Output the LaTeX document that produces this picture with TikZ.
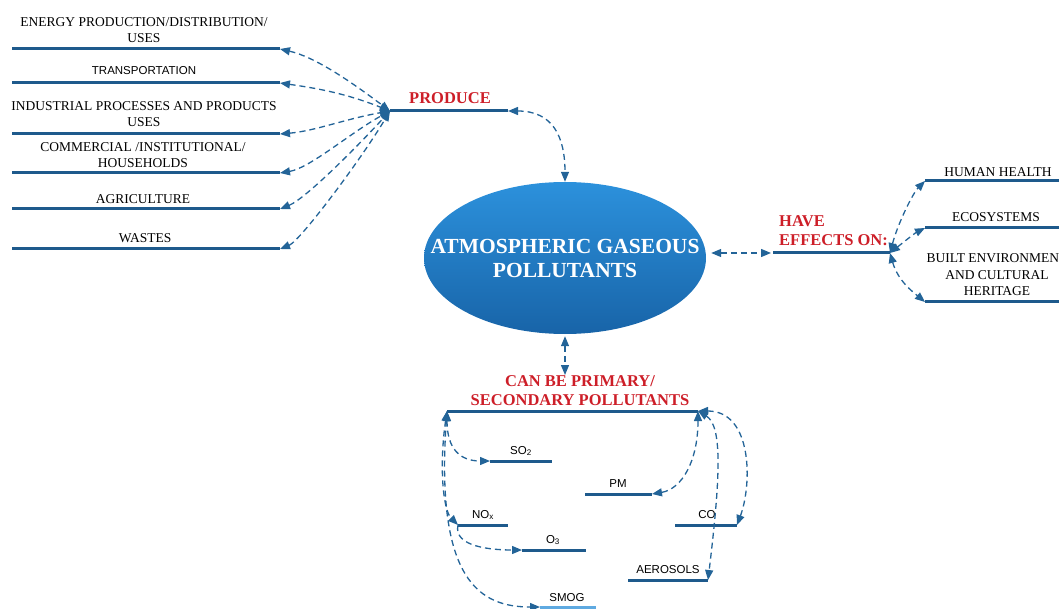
\documentclass[tikz,border=0pt]{standalone}
\usepackage{fontspec}
\setmainfont{Liberation Serif}
\setsansfont{Liberation Sans}
\usepackage{tikz}
\usetikzlibrary{arrows.meta,shapes.geometric}

\definecolor{barblue}{RGB}{30,90,140}
\definecolor{dashblue}{RGB}{35,100,152}
\definecolor{labelred}{RGB}{205,30,40}
\definecolor{elltop}{RGB}{44,145,220}
\definecolor{ellbot}{RGB}{24,100,168}
\definecolor{smogblue}{RGB}{95,170,225}

\tikzset{
	bar/.style={barblue,line width=3pt},
	link/.style={dashblue,line width=1.3pt,dash pattern=on 6pt off 4pt},
	>={Triangle[length=10pt,width=8pt]},
	lbl/.style={font=\fontsize{13.5}{16.5}\selectfont,align=center,inner sep=0pt},
	sublbl/.style={font=\sffamily\fontsize{11.5}{13}\selectfont,inner sep=0pt},
	verb/.style={font=\bfseries\fontsize{16.5}{19}\selectfont,text=labelred,inner sep=0pt}
}

\begin{document}
\begin{tikzpicture}[x=1pt,y=-1pt]
		\useasboundingbox (0,0) rectangle (1059,609);
		
		%centre
		\node[ellipse,minimum width=282pt,minimum height=152pt,top color=elltop,bottom color=ellbot] (gas) at (565,258) {};
		\node[font=\bfseries\fontsize{21.5}{24}\selectfont,text=white,align=center,inner sep=0pt] (gastext) at (gas.center) {ATMOSPHERIC GASEOUS\\POLLUTANTS};
		
		%left branch
		\coordinate (produceL) at (390,111);
		\coordinate (produceR) at (508,111);
		\draw[bar] (produceL) -- (produceR);
		\node[verb] (produce) at (450,98) {PRODUCE};
		\foreach \y/\nm in {49/energy,83/transport,134/industry,173/commerce,209/agri,249/waste}{
			\coordinate (\nm L) at (12,\y);
			\coordinate (\nm R) at (280,\y);
			\draw[bar] (\nm L) -- (\nm R);
		}
		\node[lbl] (energy) at (144,30) {ENERGY PRODUCTION/DISTRIBUTION/\\USES};
		\node[sublbl] (transport) at (144,71) {TRANSPORTATION};
		\node[lbl] (industry) at (144,114) {INDUSTRIAL PROCESSES AND PRODUCTS\\USES};
		\node[lbl] (commerce) at (143,155) {COMMERCIAL /INSTITUTIONAL/\\HOUSEHOLDS};
		\node[lbl] (agri) at (143,199) {AGRICULTURE};
		\node[lbl] (waste) at (145,238) {WASTES};
		
		%dashed fan
		\draw[link,<->] (energyR) .. controls +(35,8) and +(-40,-30) .. (produceL);
		\draw[link,<->] (transportR) .. controls +(35,5) and +(-45,-18) .. (produceL);
		\draw[link,<->] (industryR) .. controls +(35,-3) and +(-45,8) .. (produceL);
		\draw[link,<->] (commerceR) .. controls +(30,-5) and +(-40,22) .. (produceL);
		\draw[link,<->] (agriR) .. controls +(25,-10) and +(-35,38) .. (produceL);
		\draw[link,<->] (wasteR) .. controls +(20,-8) and +(-30,50) .. (produceL);
		\draw[link,<->] (produceR) .. controls +(45,0) and +(0,-45) .. (gas.north);
		
		%effects
		\coordinate (effL) at (773,253);
		\coordinate (effR) at (890,253);
		\draw[bar] (effL) -- (effR);
		\node[verb,align=left,anchor=south west] (effects) at (779,246) {HAVE\\EFFECTS ON:};
		\draw[link,<->,shorten <=5pt,shorten >=2pt] (gas.east |- effL) -- (effL);
		\foreach \y/\nm in {181/human,228/eco,302/built}{
			\coordinate (\nm L) at (925,\y);
			\coordinate (\nm R) at (1059,\y);
			\draw[bar] (\nm L) -- (\nm R);
		}
		\node[lbl] (human) at (998,172) {HUMAN HEALTH};
		\node[lbl] (eco) at (996,217) {ECOSYSTEMS};
		\node[lbl] (built) at (997,275) {BUILT ENVIRONMENT\\AND CULTURAL\\HERITAGE};
		\draw[link,<->] (effR) .. controls +(8,-30) and +(-12,12) .. (humanL);
		\draw[link,<->] (effR) .. controls +(10,-8) and +(-10,5) .. (ecoL);
		\draw[link,<->] (effR) .. controls +(8,28) and +(-12,-10) .. (builtL);
		
		%pollutants
		\coordinate (polTop) at (565,375);
		\draw[link,<->,shorten <=2pt] (gas.south) -- (polTop);
		\node[verb,align=center] (poltext) at (580,391) {CAN BE PRIMARY/\\SECONDARY POLLUTANTS};
		\coordinate (polL) at (447,411);
		\coordinate (polR) at (698,411);
		\draw[bar] (polL) -- (polR);
		\foreach \xa/\xb/\y/\nm in {490/552/461/so2,585/652/494/pm,458/508/525/nox,522/586/550/o3,675/737/525/co,628/708/580/aero}{
			\coordinate (\nm L) at (\xa,\y);
			\coordinate (\nm R) at (\xb,\y);
			\draw[bar] (\nm L) -- (\nm R);
		}
		\coordinate (smogL) at (540,607);
		\coordinate (smogR) at (596,607);
		\draw[bar,smogblue] (smogL) -- (smogR);
		\node[sublbl] (so2) at (521,451) {SO\textsubscript{2}};
		\node[sublbl] (pm) at (618,484) {PM};
		\node[sublbl] (nox) at (483,515) {NO\textsubscript{x}};
		\node[sublbl] (o3) at (553,540) {O\textsubscript{3}};
		\node[sublbl] (co) at (707,515) {CO};
		\node[sublbl] (aero) at (668,570) {AEROSOLS};
		\node[sublbl] (smog) at (567,598) {SMOG};
		
		\draw[link,<->] (polL) .. controls +(0,38) and +(-30,0) .. (so2L);
		\draw[link,<->] (polL) .. controls +(-8,55) and +(-15,-15) .. (noxL);
		\draw[link,->] (noxL) .. controls +(-5,22) and +(-30,0) .. (o3L);
		\draw[link,<->] (polL) .. controls +(-12,170) and +(-60,0) .. (smogL);
		\draw[link,<->] (polR) .. controls +(0,50) and +(30,-5) .. (pmR);
		\draw[link,<->] (polR) .. controls +(55,0) and +(15,-40) .. (coR);
		\draw[link,<->] (polR) .. controls +(25,15) and +(12,-100) .. (aeroR);
		
\end{tikzpicture}
\end{document}
